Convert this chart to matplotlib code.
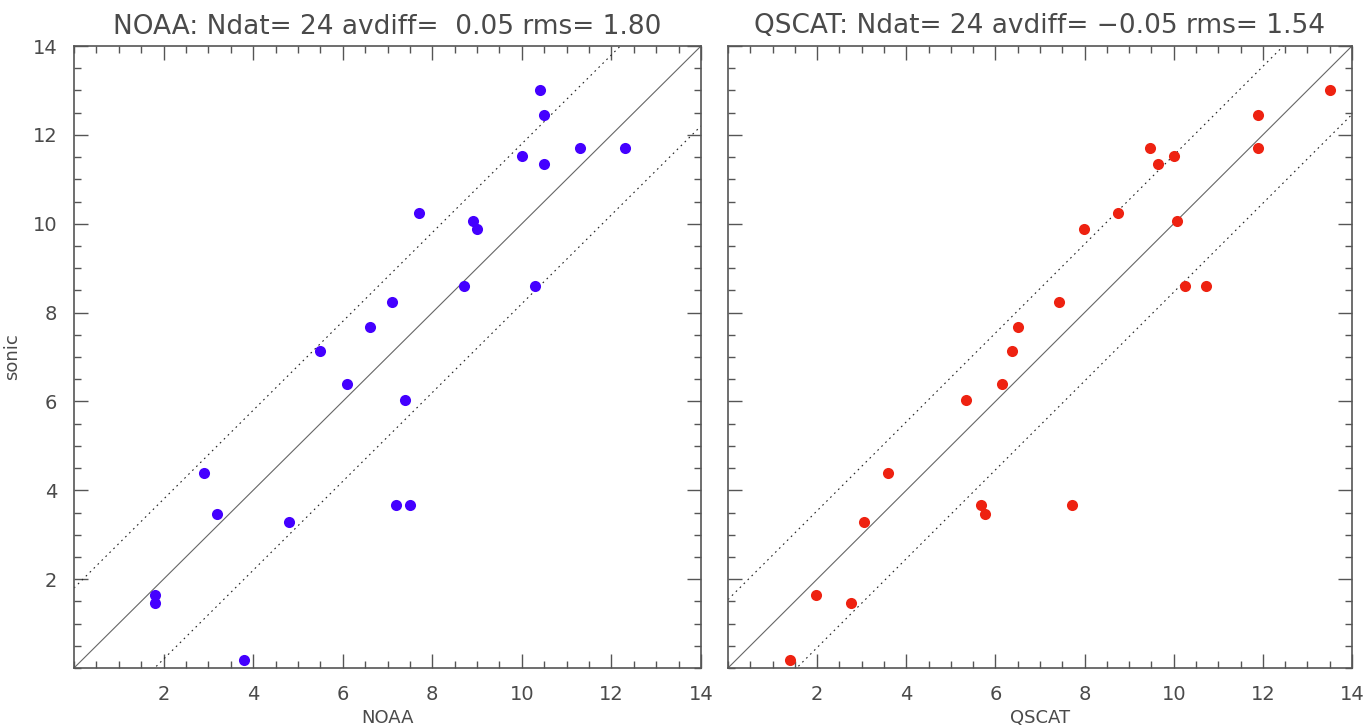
import matplotlib
matplotlib.use('Agg')
import matplotlib.pyplot as plt
from matplotlib.ticker import MultipleLocator
import numpy as np

# sonic wind speeds (shared by both panels)
sonic = [13.0, 12.45, 11.7, 11.7, 11.53, 11.35, 10.25, 10.07, 9.88, 8.6, 8.6, 8.24,
         7.68, 7.14, 6.4, 6.04, 4.39, 3.66, 3.66, 3.47, 3.29, 1.65, 1.47, 0.19]
noaa = [10.4, 10.5, 11.3, 12.3, 10.0, 10.5, 7.7, 8.9, 9.0, 8.7, 10.3, 7.1,
        6.6, 5.5, 6.1, 7.4, 2.9, 7.2, 7.5, 3.2, 4.8, 1.8, 1.8, 3.8]
qscat = [13.5, 11.9, 9.46, 11.9, 10.0, 9.64, 8.75, 10.07, 7.98, 10.26, 10.72, 7.43,
         6.51, 6.38, 6.15, 5.34, 3.59, 5.67, 7.71, 5.76, 3.05, 1.97, 2.76, 1.39]

titles = ["NOAA: Ndat= 24 avdiff=  0.05 rms= 1.80",
          "QSCAT: Ndat= 24 avdiff= \u22120.05 rms= 1.54"]
xlabels = ["NOAA", "QSCAT"]
rms_vals = [1.80, 1.54]
colors = ["#4400ff", "#ee2211"]

text_col = "#4a4a4a"
axis_col = "#555555"

fig = plt.figure(figsize=(13.66, 7.28), dpi=100)
ax_l = fig.add_axes([74 / 1366, 60 / 728, 627 / 1366, 622 / 728])
ax_r = fig.add_axes([728 / 1366, 60 / 728, 624 / 1366, 622 / 728])

line_x = np.array([0, 14])
for i, (ax, xs) in enumerate(zip([ax_l, ax_r], [noaa, qscat])):
    r = rms_vals[i]
    ax.plot(line_x, line_x, color="#666666", lw=0.8)
    ax.plot(line_x, line_x + r, color="#222222", lw=0.8, linestyle=(0, (1.5, 3.5)))
    ax.plot(line_x, line_x - r, color="#222222", lw=0.8, linestyle=(0, (1.5, 3.5)))
    ax.plot(xs, sonic, 'o', color=colors[i], markersize=8, markeredgewidth=0, zorder=3)

    ax.set_xlim(0, 14)
    ax.set_ylim(0, 14)
    ax.xaxis.set_minor_locator(MultipleLocator(0.5))
    ax.yaxis.set_minor_locator(MultipleLocator(0.5))
    ax.set_xticks([2, 4, 6, 8, 10, 12, 14])
    ax.set_yticks([2, 4, 6, 8, 10, 12, 14])
    ax.tick_params(which='both', direction='in', top=True, right=True,
                   color=axis_col, width=1)
    ax.tick_params(which='major', length=10, labelsize=14, labelcolor=text_col, pad=12)
    ax.tick_params(which='minor', length=5)
    for s in ax.spines.values():
        s.set_color(axis_col)
        s.set_linewidth(1.2)
    ax.set_title(titles[i], fontsize=19, color=text_col, pad=9)
    ax.set_xlabel(xlabels[i], fontsize=13, color=text_col, labelpad=4)

ax_l.set_ylabel("sonic", fontsize=13, color=text_col, labelpad=8)
ax_r.tick_params(axis='y', labelleft=False)

plt.savefig("out.png", dpi=100)
